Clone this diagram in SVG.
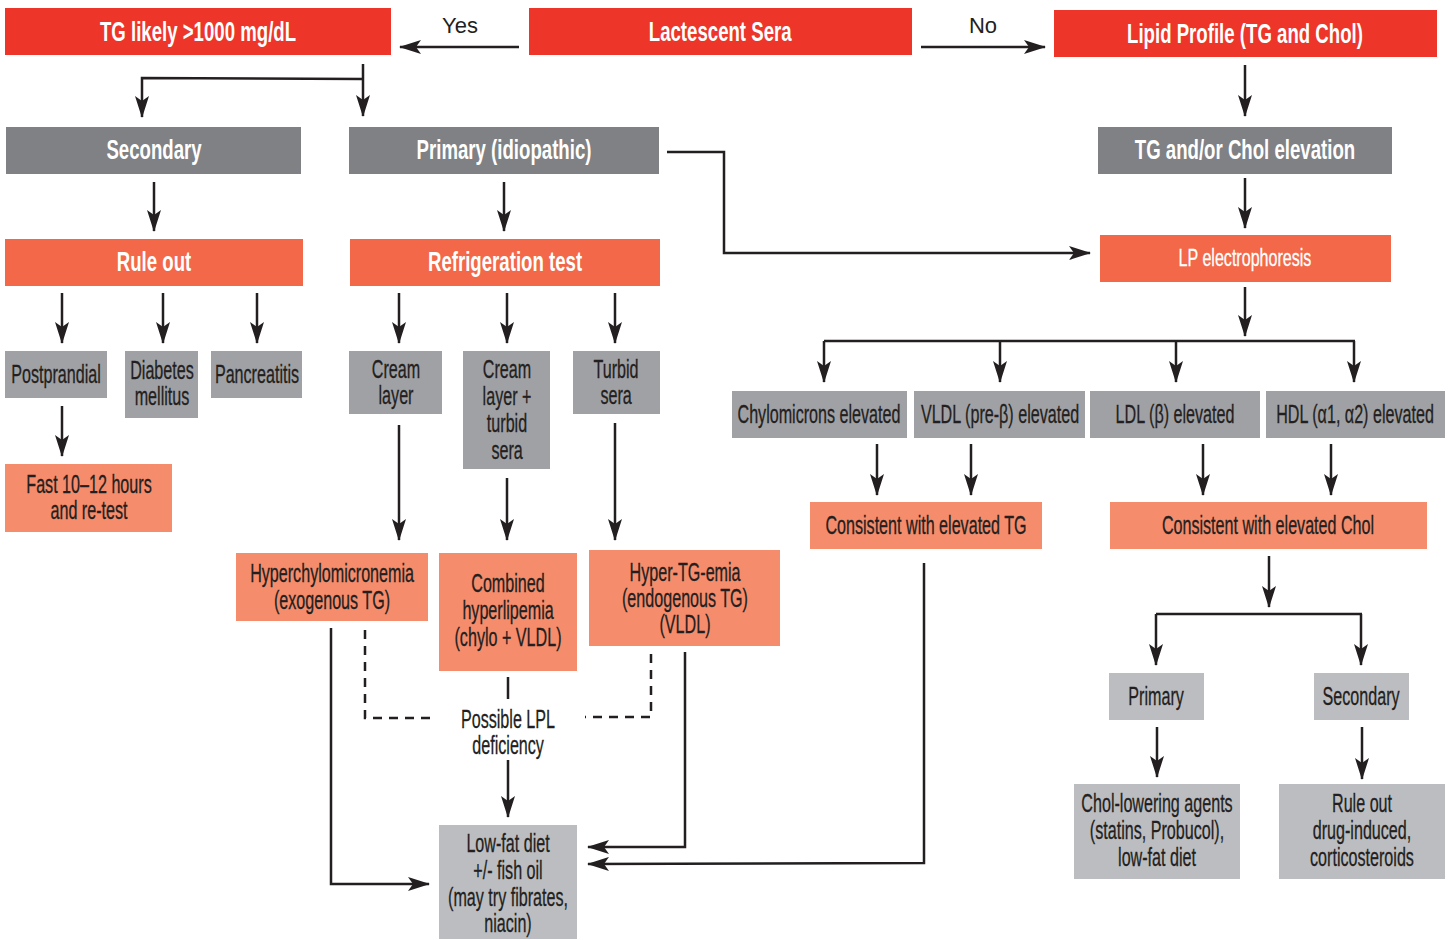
<svg xmlns="http://www.w3.org/2000/svg" width="1454" height="940" viewBox="0 0 1454 940">
<defs>
<marker id="ah" markerUnits="userSpaceOnUse" markerWidth="22" markerHeight="14" viewBox="0 0 22 14" refX="21" refY="7" orient="auto">
<path d="M0,0 L22,7 L0,14 L5,7 Z" fill="#231f20"/>
</marker>
<style>
.red{fill:#ed3529}
.dg{fill:#808184}
.or{fill:#f26849}
.sa{fill:#f58c6c}
.lg{fill:#a0a1a5}
.xg{fill:#bcbdc0}
text{font-family:"Liberation Sans",Arial,sans-serif;text-anchor:middle;font-size:25px;fill:#231f20;stroke:#231f20;stroke-width:0.3;transform-box:fill-box;transform-origin:center;transform:scaleX(0.645)}
.h{font-weight:bold;fill:#fff;stroke:none;font-size:27px;transform:scaleX(0.69)}
.hw{fill:#fff;stroke:#fff;font-size:24px;transform:scaleX(0.67)}
.yn{font-size:22px;stroke:none;transform:none}
.c line,.c path{stroke:#231f20;stroke-width:2.5;fill:none}
.c .ar{marker-end:url(#ah)}
.c .d{stroke-dasharray:9,7}
</style>
</defs>
<g id="n-tg"><rect class="red" x="5" y="8" width="386" height="47"/><text class="h" x="198" y="41">TG likely &gt;1000 mg/dL</text></g>
<g id="n-lact"><rect class="red" x="529" y="8" width="383" height="47"/><text class="h" x="720" y="41">Lactescent Sera</text></g>
<g id="n-lipid"><rect class="red" x="1054" y="10" width="383" height="47"/><text class="h" x="1245" y="43">Lipid Profile (TG and Chol)</text></g>
<g id="n-sec"><rect class="dg" x="6" y="127" width="295" height="47"/><text class="h" x="154" y="159">Secondary</text></g>
<g id="n-prim"><rect class="dg" x="349" y="127" width="310" height="47"/><text class="h" x="504" y="159">Primary (idiopathic)</text></g>
<g id="n-tgchol"><rect class="dg" x="1098" y="127" width="294" height="47"/><text class="h" x="1245" y="159">TG and/or Chol elevation</text></g>
<g id="n-ruleout"><rect class="or" x="5" y="239" width="298" height="47"/><text class="h" x="154" y="271">Rule out</text></g>
<g id="n-refrig"><rect class="or" x="350" y="239" width="310" height="47"/><text class="h" x="505" y="271">Refrigeration test</text></g>
<g id="n-lpe"><rect class="or" x="1100" y="235" width="291" height="47"/><text class="hw" x="1245" y="266">LP electrophoresis</text></g>
<g id="n-post"><rect class="lg" x="5" y="351" width="102" height="47"/><text x="56" y="383">Postprandial</text></g>
<g id="n-diab"><rect class="lg" x="125" y="351" width="73" height="67"/><text x="162" y="379">Diabetes</text><text x="162" y="405">mellitus</text></g>
<g id="n-panc"><rect class="lg" x="211" y="351" width="91" height="47"/><text x="257" y="383">Pancreatitis</text></g>
<g id="n-fast"><rect class="sa" x="5" y="464" width="167" height="68"/><text x="89" y="493">Fast 10–12 hours</text><text x="89" y="519">and re-test</text></g>
<g id="n-cream"><rect class="lg" x="349" y="351" width="93" height="63"/><text x="396" y="378">Cream</text><text x="396" y="404">layer</text></g>
<g id="n-creamturb"><rect class="lg" x="463" y="351" width="87" height="118"/><text x="507" y="378">Cream</text><text x="507" y="405">layer +</text><text x="507" y="432">turbid</text><text x="507" y="459">sera</text></g>
<g id="n-turbid"><rect class="lg" x="573" y="351" width="87" height="63"/><text x="616" y="378">Turbid</text><text x="616" y="404">sera</text></g>
<g id="n-hyperchylo"><rect class="sa" x="236" y="553" width="192" height="68"/><text x="332" y="582">Hyperchylomicronemia</text><text x="332" y="609">(exogenous TG)</text></g>
<g id="n-combined"><rect class="sa" x="439" y="553" width="138" height="118"/><text x="508" y="592">Combined</text><text x="508" y="619">hyperlipemia</text><text x="508" y="646">(chylo + VLDL)</text></g>
<g id="n-hypertg"><rect class="sa" x="589" y="550" width="191" height="96"/><text x="685" y="581">Hyper-TG-emia</text><text x="685" y="607">(endogenous TG)</text><text x="685" y="633">(VLDL)</text></g>
<g id="n-lpl"><text x="508" y="728">Possible LPL</text><text x="508" y="754">deficiency</text></g>
<g id="n-lowfat"><rect class="xg" x="439" y="825" width="138" height="114"/><text x="508" y="852">Low-fat diet</text><text x="508" y="879">+/- fish oil</text><text x="508" y="906">(may try fibrates,</text><text x="508" y="932">niacin)</text></g>
<g id="n-chylo"><rect class="lg" x="732" y="391" width="175" height="47"/><text x="819" y="423">Chylomicrons elevated</text></g>
<g id="n-vldl"><rect class="lg" x="914" y="391" width="171" height="47"/><text x="1000" y="423">VLDL (pre-β) elevated</text></g>
<g id="n-ldl"><rect class="lg" x="1090" y="391" width="170" height="47"/><text x="1175" y="423">LDL (β) elevated</text></g>
<g id="n-hdl"><rect class="lg" x="1266" y="391" width="179" height="47"/><text x="1355" y="423">HDL (α1, α2) elevated</text></g>
<g id="n-constg"><rect class="sa" x="810" y="502" width="232" height="47"/><text x="926" y="534">Consistent with elevated TG</text></g>
<g id="n-conschol"><rect class="sa" x="1110" y="502" width="317" height="47"/><text x="1268" y="534">Consistent with elevated Chol</text></g>
<g id="n-prim2"><rect class="xg" x="1109" y="673" width="95" height="47"/><text x="1156" y="705">Primary</text></g>
<g id="n-sec2"><rect class="xg" x="1314" y="673" width="95" height="47"/><text x="1361" y="705">Secondary</text></g>
<g id="n-chollow"><rect class="xg" x="1074" y="784" width="166" height="95"/><text x="1157" y="812">Chol-lowering agents</text><text x="1157" y="839">(statins, Probucol),</text><text x="1157" y="866">low-fat diet</text></g>
<g id="n-ruledrug"><rect class="xg" x="1279" y="784" width="166" height="95"/><text x="1362" y="812">Rule out</text><text x="1362" y="839">drug-induced,</text><text x="1362" y="866">corticosteroids</text></g>
<g id="labels"><text class="yn" x="460" y="33">Yes</text><text class="yn" x="983" y="33">No</text></g>
<g class="c" id="connectors">
<line class="ar" x1="519" y1="47" x2="400" y2="47"/>
<line class="ar" x1="921" y1="47" x2="1045" y2="47"/>
<line class="ar" x1="1245" y1="65" x2="1245" y2="116"/>
<line class="ar" x1="363" y1="64" x2="363" y2="116"/>
<path class="ar" d="M363,79 L142,78 L142,117"/>
<path class="ar" d="M667,152 L724,152 L724,253 L1090,253"/>
<line class="ar" x1="154" y1="182" x2="154" y2="231"/>
<line class="ar" x1="504" y1="182" x2="504" y2="231"/>
<line class="ar" x1="1245" y1="178" x2="1245" y2="228"/>
<line class="ar" x1="62" y1="293" x2="62" y2="343"/>
<line class="ar" x1="163" y1="293" x2="163" y2="343"/>
<line class="ar" x1="257" y1="293" x2="257" y2="343"/>
<line class="ar" x1="62" y1="406" x2="62" y2="456"/>
<line class="ar" x1="399" y1="293" x2="399" y2="343"/>
<line class="ar" x1="507" y1="293" x2="507" y2="343"/>
<line class="ar" x1="615" y1="293" x2="615" y2="343"/>
<line class="ar" x1="399" y1="425" x2="399" y2="540"/>
<line class="ar" x1="507" y1="478" x2="507" y2="540"/>
<line class="ar" x1="615" y1="423" x2="615" y2="540"/>
<line x1="508" y1="677" x2="508" y2="699"/>
<path class="d" d="M365,630 L365,718 L430,718"/>
<path class="d" d="M651,654 L651,717 L585,717"/>
<line class="ar" x1="508" y1="760" x2="508" y2="817"/>
<path class="ar" d="M331,628 L331,884 L429,884"/>
<path class="ar" d="M685,652 L685,847 L588,847"/>
<path class="ar" d="M924,563 L924,863 L588,864"/>
<line class="ar" x1="1245" y1="287" x2="1245" y2="336"/>
<line x1="824" y1="341" x2="1355" y2="341"/>
<line class="ar" x1="824" y1="341" x2="824" y2="382"/>
<line class="ar" x1="1000" y1="341" x2="1000" y2="382"/>
<line class="ar" x1="1176" y1="341" x2="1176" y2="382"/>
<line class="ar" x1="1354" y1="341" x2="1354" y2="382"/>
<line class="ar" x1="877" y1="444" x2="877" y2="495"/>
<line class="ar" x1="971" y1="444" x2="971" y2="495"/>
<line class="ar" x1="1203" y1="444" x2="1203" y2="495"/>
<line class="ar" x1="1331" y1="444" x2="1331" y2="495"/>
<line class="ar" x1="1269" y1="556" x2="1269" y2="607"/>
<line x1="1156" y1="614" x2="1362" y2="614"/>
<line class="ar" x1="1156" y1="614" x2="1156" y2="665"/>
<line class="ar" x1="1361" y1="614" x2="1361" y2="665"/>
<line class="ar" x1="1157" y1="727" x2="1157" y2="777"/>
<line class="ar" x1="1362" y1="727" x2="1362" y2="779"/>
</g>
</svg>
